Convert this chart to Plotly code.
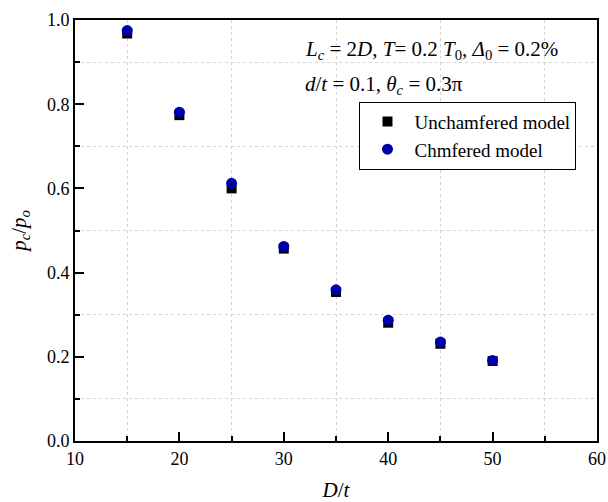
import plotly.graph_objects as go

x_vals = [15, 20, 25, 30, 35, 40, 45, 50]
unchamfered = [0.968, 0.774, 0.600, 0.457, 0.354, 0.281, 0.231, 0.190]
chamfered = [0.975, 0.781, 0.612, 0.462, 0.359, 0.287, 0.235, 0.191]

FONT = "Liberation Serif"

fig = go.Figure()
fig.add_trace(go.Scatter(
    x=x_vals, y=unchamfered, mode="markers", name="Unchamfered model",
    marker=dict(symbol="square", size=10, color="black"),
))
fig.add_trace(go.Scatter(
    x=x_vals, y=chamfered, mode="markers", name="Chmfered model",
    marker=dict(symbol="circle", size=11, color="#0000A8"),
))

axis_common = dict(
    showline=True, linewidth=2, linecolor="black", mirror=True,
    ticks="inside", ticklen=9, tickwidth=2, tickcolor="black",
    showgrid=False, zeroline=False, automargin=False,
    tickfont=dict(family=FONT, size=18, color="black"),
)

fig.update_xaxes(
    range=[10, 60], tickvals=[10, 20, 30, 40, 50, 60],
    minor=dict(tickvals=[15, 25, 35, 45, 55], ticks="inside", ticklen=5,
               tickwidth=1.5, tickcolor="black", showgrid=True,
               gridcolor="#d4d4d4", griddash="dot", gridwidth=1),
    title=dict(text="<i>D</i>/<i>t</i>", font=dict(family=FONT, size=21, color="black")),
    **axis_common,
)
fig.update_yaxes(
    range=[0, 1.0], tickvals=[0, 0.2, 0.4, 0.6, 0.8, 1.0], tickformat=".1f",
    minor=dict(tickvals=[0.1, 0.3, 0.5, 0.7, 0.9], ticks="inside", ticklen=5,
               tickwidth=1.5, tickcolor="black", showgrid=True,
               gridcolor="#d4d4d4", griddash="dot", gridwidth=1),
    title=dict(text="<i>p</i><sub><i>c</i></sub>/<i>p</i><sub><i>o</i></sub>",
               font=dict(family=FONT, size=21, color="black")),
    **axis_common,
)

fig.add_annotation(
    xref="paper", yref="paper", x=0.437, y=0.929, xanchor="left", yanchor="middle",
    text="<i>L</i><sub><i>c</i></sub> = 2<i>D</i>, <i>T</i>= 0.2 <i>T</i><sub>0</sub>, <i>Δ</i><sub>0</sub> = 0.2%",
    showarrow=False, font=dict(family=FONT, size=21, color="black"),
)
fig.add_annotation(
    xref="paper", yref="paper", x=0.437, y=0.846, xanchor="left", yanchor="middle",
    text="<i>d</i>/<i>t</i> = 0.1, <i>θ</i><sub><i>c</i></sub> = 0.3π",
    showarrow=False, font=dict(family=FONT, size=21, color="black"),
)

fig.update_layout(
    width=608, height=502,
    margin=dict(l=75, r=11, t=20, b=61),
    paper_bgcolor="white", plot_bgcolor="white",
    font=dict(family=FONT, color="black"),
    legend=dict(
        x=0.545, y=0.806, xanchor="left", yanchor="top",
        bordercolor="black", borderwidth=1, bgcolor="white",
        font=dict(family=FONT, size=19, color="black"),
        tracegroupgap=0, itemwidth=44,
    ),
)

fig.write_html("out.html", config={"displayModeBar": False},
               post_script="document.body.style.margin='0';")
